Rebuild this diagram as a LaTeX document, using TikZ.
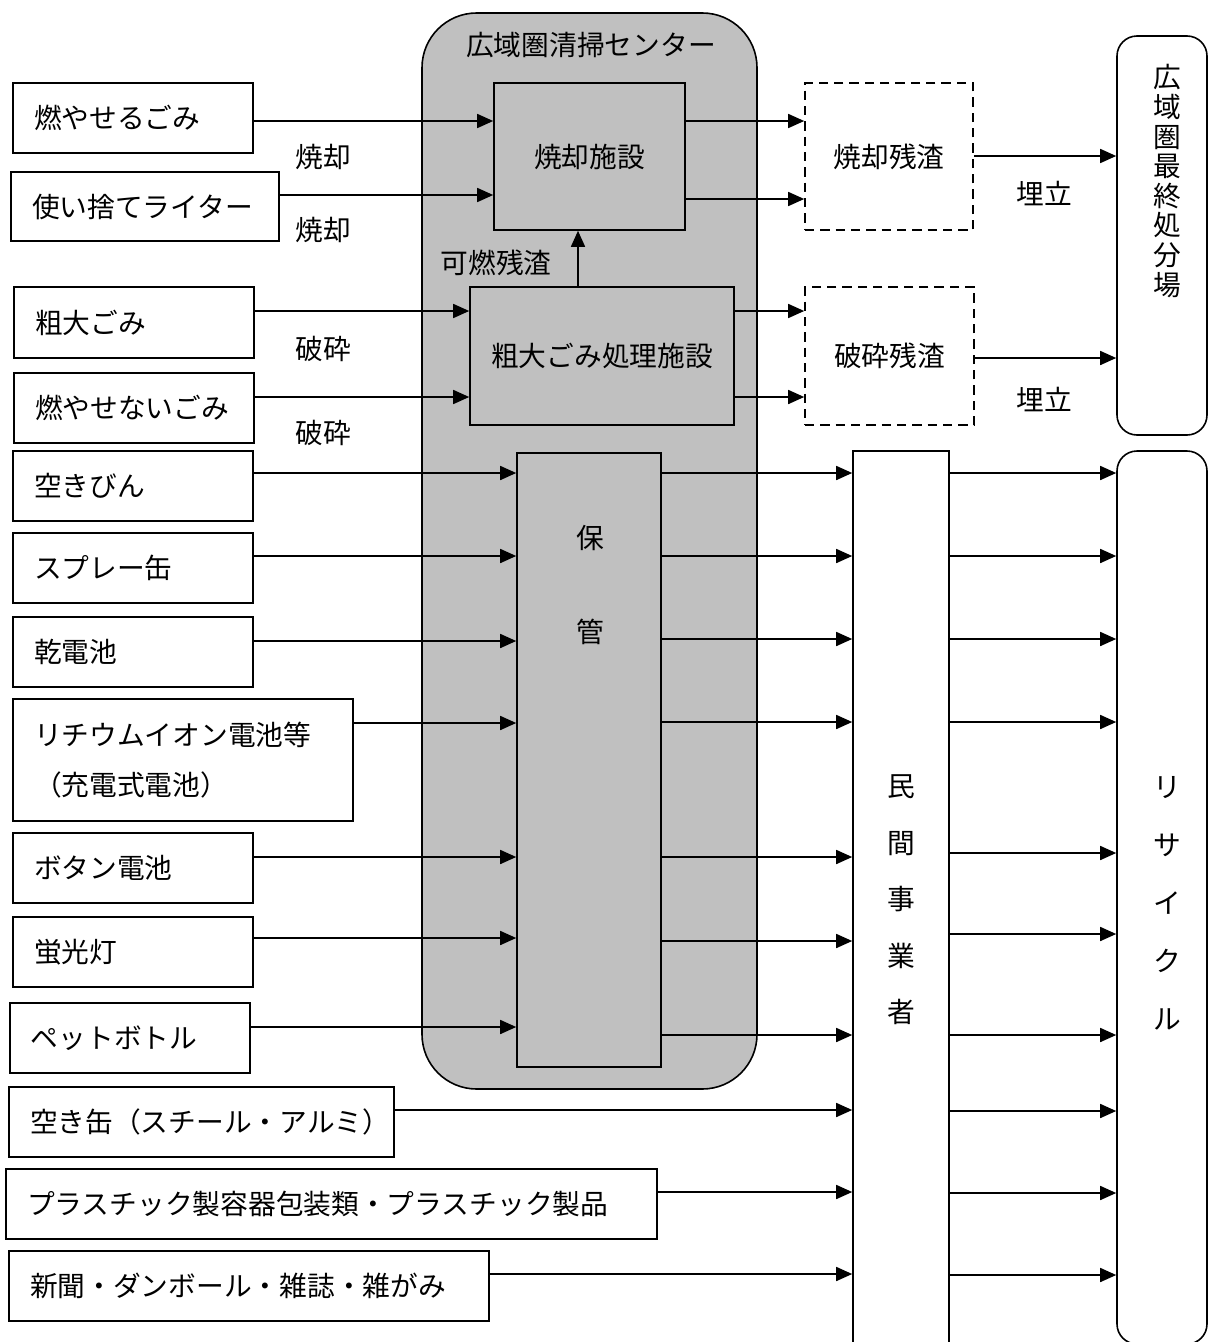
\documentclass[tikz,border=0pt]{standalone}
\usepackage{fontspec}
\setmainfont{Noto Sans CJK JP}
\usetikzlibrary{arrows.meta}
\definecolor{panelgray}{RGB}{192,192,192}
\tikzset{
  box/.style={draw, rectangle, inner sep=0pt},
  graybox/.style={box, fill=panelgray},
  dashbox/.style={box, dash pattern=on 7pt off 4.5pt},
  arr/.style={-{Triangle[length=12pt,width=10.5pt]}},
  lbl/.style={inner sep=0pt},
}
\newcommand\rectnode[7][]{%
  \pgfmathsetmacro\rnW{(#5-#3)*0.75}\pgfmathsetmacro\rnH{(#6-#4)*0.75}%
  \pgfmathsetmacro\rnX{(#3+#5)/2}\pgfmathsetmacro\rnY{(#4+#6)/2}%
  \node[#1, minimum width=\rnW pt, minimum height=\rnH pt] (#2) at (\rnX,\rnY) {#7};}
\newcommand\srcbox[6]{%
  \pgfmathsetmacro\sbW{(#4-#2)*0.75}\pgfmathsetmacro\sbH{(#5-#3)*0.75}%
  \pgfmathsetmacro\sbT{(#4-#2-42)*0.75}%
  \pgfmathsetmacro\sbX{(#2+#4)/2}\pgfmathsetmacro\sbY{(#3+#5)/2}%
  \node[box, minimum width=\sbW pt, minimum height=\sbH pt, text width=\sbT pt, inner xsep=15.75pt, align=left] (#1) at (\sbX,\sbY) {#6};}
\begin{document}
\begin{tikzpicture}[x=0.75pt,y=-0.75pt, font=\fontsize{20.8}{30}\selectfont, line width=1.2pt]
\useasboundingbox (0,0) rectangle (1208,1342);
\clip (0,0) rectangle (1208,1342);
% central facility
\rectnode[graybox, rounded corners=41pt]{center}{422}{13}{757}{1089}{}
\node[lbl] (centertitle) at (591,45) {広域圏清掃センター};
\rectnode[graybox]{shokyaku}{494}{83}{685}{230}{焼却施設}
\rectnode[graybox]{sodai}{470}{287}{734}{425}{粗大ごみ処理施設}
\rectnode[graybox]{hokan}{517}{453}{661}{1067}{}
\node[lbl, align=center, font=\fontsize{20.8}{70.5}\selectfont] (hokantext) at (590,585) {保\\管};
% residues
\rectnode[dashbox]{zansa1}{805}{83}{973}{230}{焼却残渣}
\rectnode[dashbox]{zansa2}{805}{287}{974}{425}{破砕残渣}
% right boxes
\rectnode[box, rounded corners=15pt]{syobun}{1117}{36}{1207}{435}{}
\node[lbl, align=center, font=\fontsize{20.8}{22.2}\selectfont] (syobuntext) at (1167,181) {広\\域\\圏\\最\\終\\処\\分\\場};
\rectnode[box, rounded corners=15pt]{recycle}{1117}{451}{1207}{1344}{}
\node[lbl, align=center, font=\fontsize{20.8}{43.5}\selectfont] (recycletext) at (1167,903) {リ\\サ\\イ\\ク\\ル};
\rectnode[box]{minkan}{853}{451}{949}{1370}{}
\node[lbl, align=center, font=\fontsize{20.8}{42.4}\selectfont] (minkantext) at (901,900) {民\\間\\事\\業\\者};
% sources
\srcbox{moyaseru}{13}{83}{253}{153}{燃やせるごみ}
\srcbox{lighter}{11}{172}{279}{241}{使い捨てライター}
\srcbox{sodaigomi}{14}{287}{254}{358}{粗大ごみ}
\srcbox{moyasenai}{14}{373}{254}{443}{燃やせないごみ}
\srcbox{bin}{13}{451}{253}{521}{空きびん}
\srcbox{spray}{13}{533}{253}{603}{スプレー缶}
\srcbox{kandenchi}{13}{617}{253}{687}{乾電池}
\node[box, minimum width=255pt, minimum height=91.5pt, text width=223.5pt, inner xsep=15.75pt, align=left, font=\fontsize{20.8}{37.5}\selectfont] (lithium) at (183,760) {リチウムイオン電池等\\（充電式電池）};
\srcbox{button}{13}{833}{253}{903}{ボタン電池}
\srcbox{keikou}{13}{917}{253}{987}{蛍光灯}
\srcbox{pet}{10}{1003}{250}{1073}{ペットボトル}
\srcbox{kan}{9}{1087}{394}{1157}{空き缶（スチール・アルミ）}
\srcbox{pla}{6}{1169}{657}{1239}{プラスチック製容器包装類・プラスチック製品}
\srcbox{shinbun}{9}{1251}{489}{1321}{新聞・ダンボール・雑誌・雑がみ}
% labels
\node[lbl] (l1) at (323,157) {焼却};
\node[lbl] (l2) at (323,230) {焼却};
\node[lbl] (l3) at (323,349) {破砕};
\node[lbl] (l4) at (323,433) {破砕};
\node[lbl] (l5) at (496,263) {可燃残渣};
\node[lbl] (l6) at (1044,194) {埋立};
\node[lbl] (l7) at (1044,400) {埋立};
% arrows into facilities
\draw[arr] (moyaseru.east |- 0,121) -- (shokyaku.west |- 0,121);
\draw[arr] (lighter.east |- 0,195) -- (shokyaku.west |- 0,195);
\draw[arr] (sodaigomi.east |- 0,311) -- (sodai.west |- 0,311);
\draw[arr] (moyasenai.east |- 0,397) -- (sodai.west |- 0,397);
\draw[arr] (sodai.north -| 578,0) -- (shokyaku.south -| 578,0);
\draw[arr] (shokyaku.east |- 0,121) -- (zansa1.west |- 0,121);
\draw[arr] (shokyaku.east |- 0,199) -- (zansa1.west |- 0,199);
\draw[arr] (sodai.east |- 0,311) -- (zansa2.west |- 0,311);
\draw[arr] (sodai.east |- 0,397) -- (zansa2.west |- 0,397);
\draw[arr] (zansa1.east |- 0,156) -- (syobun.west |- 0,156);
\draw[arr] (zansa2.east |- 0,358) -- (syobun.west |- 0,358);
% storage inputs
\draw[arr] (bin.east |- 0,473) -- (hokan.west |- 0,473);
\draw[arr] (spray.east |- 0,556) -- (hokan.west |- 0,556);
\draw[arr] (kandenchi.east |- 0,641) -- (hokan.west |- 0,641);
\draw[arr] (lithium.east |- 0,723) -- (hokan.west |- 0,723);
\draw[arr] (button.east |- 0,857) -- (hokan.west |- 0,857);
\draw[arr] (keikou.east |- 0,938) -- (hokan.west |- 0,938);
\draw[arr] (pet.east |- 0,1027) -- (hokan.west |- 0,1027);
% storage outputs
\foreach \yy in {473,556,639,722,857,941,1035}
  \draw[arr] (hokan.east |- 0,\yy) -- (minkan.west |- 0,\yy);
\draw[arr] (kan.east |- 0,1110) -- (minkan.west |- 0,1110);
\draw[arr] (pla.east |- 0,1192) -- (minkan.west |- 0,1192);
\draw[arr] (shinbun.east |- 0,1274) -- (minkan.west |- 0,1274);
% to recycle
\foreach \yy in {473,556,639,722,853,934,1035,1111,1193,1275}
  \draw[arr] (minkan.east |- 0,\yy) -- (recycle.west |- 0,\yy);
\end{tikzpicture}
\end{document}
